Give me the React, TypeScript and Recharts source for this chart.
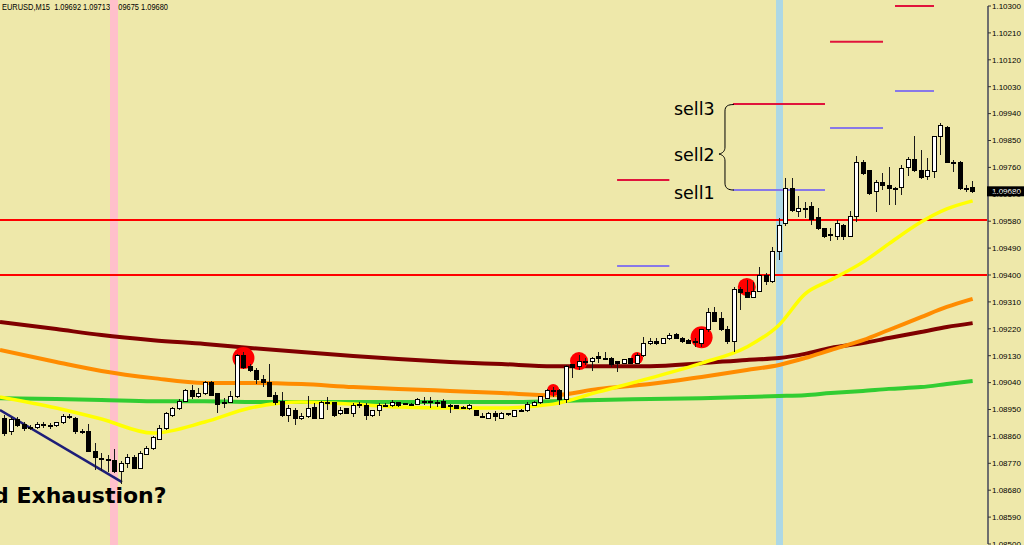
import {
  ComposedChart,
  Bar,
  Line,
  Scatter,
  XAxis,
  YAxis,
  ReferenceLine,
  ReferenceArea,
  ReferenceDot,
} from 'recharts';

// EURUSD M15 candles, oldest first
const opens = [
  1.08921, 1.08875, 1.08918, 1.08901, 1.08885, 1.08891, 1.08901, 1.08895, 1.08895, 1.08905,
  1.08925, 1.08921, 1.08878, 1.08878, 1.08811, 1.08784, 1.08784, 1.08781, 1.08744, 1.08771,
  1.08791, 1.08754, 1.08801, 1.08818, 1.08851, 1.08888, 1.08931, 1.08952, 1.08978, 1.09012,
  1.08992, 1.09005, 1.09039, 1.09002, 1.08972, 1.08975, 1.08992, 1.09132, 1.09095, 1.09082,
  1.09052, 1.09039, 1.08998, 1.08978, 1.08931, 1.08948, 1.08921, 1.08928, 1.08958, 1.08921,
  1.08972, 1.08972, 1.08935, 1.08952, 1.08938, 1.08965, 1.08962, 1.08931, 1.08945, 1.08965,
  1.08962, 1.08972, 1.08968, 1.08968, 1.08968, 1.08978, 1.08972, 1.08972, 1.08978, 1.08965,
  1.08962, 1.08958, 1.08955, 1.08945, 1.08928, 1.08921, 1.08935, 1.08921, 1.08935, 1.08928,
  1.08945, 1.08945, 1.08965, 1.08972, 1.08988, 1.09012, 1.09012, 1.08982, 1.09099, 1.09095,
  1.09109, 1.09109, 1.09126, 1.09122, 1.09122, 1.09109, 1.09105, 1.09119, 1.09105, 1.09129,
  1.09172, 1.09179, 1.09172, 1.09189, 1.09202, 1.09189, 1.09182, 1.09176, 1.09172, 1.09216,
  1.09276, 1.09256, 1.09219, 1.09179, 1.09353, 1.0934, 1.09326, 1.09346, 1.094, 1.09377,
  1.09477, 1.09571, 1.09688, 1.09614, 1.09621, 1.09628, 1.09591, 1.09554, 1.09537, 1.0953,
  1.09567, 1.0953, 1.09597, 1.09778, 1.09748, 1.09678, 1.09711, 1.09701, 1.09691, 1.09694,
  1.09758, 1.09788, 1.09751, 1.09728, 1.09745, 1.09862, 1.09895, 1.09778, 1.09778, 1.09691,
  1.09692,
];
const highs = [
  1.08931, 1.08925, 1.08925, 1.08908, 1.08898, 1.08908, 1.08908, 1.08905, 1.08908, 1.08935,
  1.08935, 1.08925, 1.08885, 1.08901, 1.08838, 1.08804, 1.08798, 1.08818, 1.08778, 1.08801,
  1.08798, 1.08811, 1.08828, 1.08861, 1.08898, 1.08942, 1.08958, 1.08985, 1.09019, 1.09032,
  1.09022, 1.09045, 1.09045, 1.09005, 1.08988, 1.09012, 1.09136, 1.09142, 1.09102, 1.09089,
  1.09065, 1.09102, 1.09009, 1.09009, 1.08965, 1.08955, 1.08938, 1.08995, 1.08972, 1.08978,
  1.08992, 1.08975, 1.08958, 1.08955, 1.08972, 1.08975, 1.08972, 1.08948, 1.08972, 1.08972,
  1.08982, 1.08975, 1.08972, 1.08972, 1.08988, 1.08992, 1.08992, 1.08982, 1.08985, 1.08968,
  1.08965, 1.08962, 1.08968, 1.08948, 1.08938, 1.08942, 1.08945, 1.08942, 1.08938, 1.08948,
  1.08952, 1.08975, 1.08978, 1.08995, 1.09019, 1.09025, 1.09019, 1.09099, 1.09102, 1.09132,
  1.09122, 1.09126, 1.09142, 1.09142, 1.09126, 1.09112, 1.09119, 1.09122, 1.09139, 1.09192,
  1.09189, 1.09189, 1.09189, 1.09206, 1.09206, 1.09192, 1.09186, 1.09189, 1.09219, 1.0929,
  1.09293, 1.09276, 1.09229, 1.0936, 1.0936, 1.09383, 1.09377, 1.09427, 1.09407, 1.09494,
  1.09591, 1.09725, 1.09725, 1.09664, 1.09644, 1.09644, 1.09624, 1.09557, 1.09557, 1.09584,
  1.09571, 1.09614, 1.09798, 1.09785, 1.09751, 1.09718, 1.09741, 1.09761, 1.09694, 1.09768,
  1.09795, 1.09865, 1.09818, 1.09791, 1.09865, 1.09909, 1.09899, 1.09785, 1.09781, 1.09701,
  1.09713,
];
const lows = [
  1.08861, 1.08865, 1.08891, 1.08878, 1.08881, 1.08885, 1.08888, 1.08885, 1.08891, 1.08901,
  1.08918, 1.08868, 1.08868, 1.08808, 1.08747, 1.08744, 1.08741, 1.08737, 1.08701, 1.08754,
  1.08751, 1.08751, 1.08798, 1.08814, 1.08848, 1.08881, 1.08925, 1.08948, 1.08975, 1.08985,
  1.08988, 1.08998, 1.08995, 1.08938, 1.08955, 1.08972, 1.08988, 1.09085, 1.09075, 1.09035,
  1.09025, 1.08992, 1.08965, 1.08925, 1.08908, 1.08898, 1.08915, 1.08921, 1.08918, 1.08918,
  1.08948, 1.08925, 1.08931, 1.08935, 1.08925, 1.08955, 1.08915, 1.08925, 1.08928, 1.08958,
  1.08958, 1.08958, 1.08965, 1.08965, 1.08965, 1.08965, 1.08955, 1.08958, 1.08955, 1.08938,
  1.08952, 1.08955, 1.08948, 1.08928, 1.08925, 1.08918, 1.08911, 1.08918, 1.08928, 1.08925,
  1.08942, 1.08942, 1.08962, 1.08968, 1.08985, 1.08992, 1.08965, 1.08972, 1.09055, 1.09082,
  1.09099, 1.09079, 1.09105, 1.09119, 1.09092, 1.09075, 1.09102, 1.09102, 1.09102, 1.09126,
  1.09166, 1.09166, 1.09169, 1.09182, 1.09186, 1.09172, 1.09169, 1.09159, 1.09159, 1.09209,
  1.09243, 1.09213, 1.09169, 1.09142, 1.09283, 1.09323, 1.09323, 1.09343, 1.09367, 1.09373,
  1.0945, 1.09564, 1.09611, 1.09594, 1.09591, 1.09567, 1.09551, 1.09524, 1.09514, 1.09517,
  1.09517, 1.09527, 1.09577, 1.09735, 1.09668, 1.09611, 1.09684, 1.09634, 1.09634, 1.09668,
  1.09731, 1.09745, 1.09721, 1.09718, 1.09725, 1.09802, 1.09775, 1.09745, 1.09684, 1.09678,
  1.09675,
];
const closes = [
  1.08871, 1.08915, 1.08898, 1.08885, 1.08891, 1.08901, 1.08895, 1.08894, 1.08905, 1.08928,
  1.08924, 1.08875, 1.08877, 1.08811, 1.08788, 1.08785, 1.08783, 1.08741, 1.08771, 1.08791,
  1.08754, 1.08804, 1.08821, 1.08855, 1.08888, 1.08935, 1.08952, 1.08978, 1.09012, 1.08992,
  1.09005, 1.09039, 1.08998, 1.08968, 1.08973, 1.08995, 1.09129, 1.09089, 1.09079, 1.09049,
  1.09039, 1.08995, 1.08975, 1.08931, 1.08952, 1.08921, 1.08928, 1.08955, 1.08921, 1.08975,
  1.08973, 1.08931, 1.08948, 1.08938, 1.08962, 1.08966, 1.08931, 1.08945, 1.08965, 1.08964,
  1.08975, 1.08962, 1.08969, 1.08967, 1.08982, 1.08972, 1.08978, 1.08971, 1.08958, 1.08964,
  1.08955, 1.08957, 1.08962, 1.08931, 1.08927, 1.08938, 1.08925, 1.08935, 1.08934, 1.08945,
  1.08944, 1.08968, 1.08975, 1.08992, 1.09015, 1.09015, 1.08982, 1.09095, 1.09092, 1.09109,
  1.09108, 1.09122, 1.09119, 1.09121, 1.09102, 1.09105, 1.09116, 1.09105, 1.09129, 1.09172,
  1.09179, 1.09172, 1.09186, 1.09199, 1.09189, 1.09179, 1.09172, 1.09175, 1.09216, 1.09276,
  1.09246, 1.09216, 1.09176, 1.09353, 1.09343, 1.09326, 1.09346, 1.094, 1.09377, 1.09477,
  1.09567, 1.09688, 1.09617, 1.09624, 1.0962, 1.09587, 1.09554, 1.0953, 1.09534, 1.09571,
  1.0953, 1.09597, 1.09778, 1.09741, 1.09674, 1.09711, 1.09701, 1.09691, 1.0969, 1.09755,
  1.09788, 1.09748, 1.09725, 1.09748, 1.09862, 1.09899, 1.09778, 1.09777, 1.09688, 1.0969,
  1.0968,
];

// moving averages, read at these candle positions
const maIndex = [-0.73, 8, 15, 23, 31, 38, 46, 54, 61, 69, 77, 85, 92, 100, 108, 115, 120, 124, 128, 133, 137, 142, 146, 150];
const maYellow = [
  1.08992, 1.08955, 1.08918, 1.08871, 1.08908, 1.08955, 1.08975, 1.08968, 1.08958, 1.08955, 1.08955, 1.08968,
  1.09009, 1.09055, 1.09105, 1.09159, 1.09233, 1.09336, 1.09383, 1.09443, 1.09504, 1.09577, 1.09621, 1.09648,
];
const maOrange = [
  1.09149, 1.09109, 1.09079, 1.09055, 1.09039, 1.09039, 1.09035, 1.09025, 1.09019, 1.09012, 1.09005, 1.08998,
  1.09019, 1.09035, 1.09059, 1.09082, 1.09099, 1.09122, 1.09149, 1.09182, 1.09216, 1.09259, 1.09293, 1.0932,
];
const maMaroon = [
  1.09243, 1.09219, 1.09199, 1.09182, 1.09169, 1.09156, 1.09142, 1.09129, 1.09119, 1.09109, 1.09102, 1.09095,
  1.09095, 1.09095, 1.09105, 1.09116, 1.09122, 1.09136, 1.09156, 1.09172, 1.09189, 1.09209, 1.09226, 1.09239,
];
const maGreen = [
  1.08988, 1.08985, 1.08982, 1.08978, 1.08978, 1.08975, 1.08975, 1.08975, 1.08975, 1.08975, 1.08975, 1.08978,
  1.08982, 1.08985, 1.08988, 1.08992, 1.08995, 1.08998, 1.09005, 1.09012, 1.09019, 1.09025, 1.09035, 1.09045,
];

// red signal dots
const signalIndex = [37, 85, 89, 98, 108, 115];
const signalPrice = [1.09122, 1.09015, 1.09112, 1.09122, 1.09192, 1.0936];
const signalRadius = [11, 6, 9, 6, 11, 9];

// order levels: entry (red) and target (purple) stubs
const levelFrom = [94.9, 94.9, 112.86, 112.86, 127.9, 127.9, 137.97, 137.97];
const levelTo = [103.0, 103.0, 127.12, 127.12, 136.11, 136.11, 144.01, 144.01];
const levelPrice = [1.09718, 1.0943, 1.09972, 1.09684, 1.1018, 1.09892, 1.103, 1.10016];
const levelKind = ['sell', 'target', 'sell', 'target', 'sell', 'target', 'sell', 'target'];

const supportLevels = [1.09584, 1.094];
const trendStart = { i: -0.73, p: 1.08948 };
const trendEnd = { i: 18.18, p: 1.08707 };

// session markers (candle ranges)
const bands = [
  { from: 16.32, to: 17.56, color: '#FFC0CB' },
  { from: 119.53, to: 120.61, color: '#ADD8E6' },
];

const priceTicks = [
  1.103, 1.1021, 1.1012, 1.1003, 1.0994, 1.0985, 1.0976, 1.0967, 1.0958, 1.0949, 1.094,
  1.0931, 1.0922, 1.0913, 1.0904, 1.0895, 1.0886, 1.0877, 1.0868, 1.0859, 1.085,
];
const lastClose = closes[closes.length - 1];
const header = `EURUSD,M15  ${opens[150].toFixed(5)} ${highs[150].toFixed(5)} ${lows[150].toFixed(5)} ${lastClose.toFixed(5)}`;

const candles = opens.map((open, i) => ({ i, open, high: highs[i], low: lows[i], close: closes[i] }));
const toSeries = (vals: number[]) => vals.map((v, k) => ({ i: maIndex[k], v }));
const signals = signalIndex.map((i, k) => ({ i, p: signalPrice[k], r: signalRadius[k] }));

function Candle(props: any) {
  const { x, y, width, height, payload } = props;
  if (x == null || y == null) return null;
  const top = Math.min(y, y + height);
  const h = Math.abs(height);
  const { open, close, high, low } = payload;
  const k = h / (high - low);
  const bodyTop = top + (high - Math.max(open, close)) * k;
  const bodyH = Math.max(1, Math.abs(open - close) * k);
  const cx = Math.round(x + width / 2) + 0.5;
  const bull = close > open;
  return (
    <g shapeRendering="crispEdges">
      <line x1={cx} x2={cx} y1={top} y2={top + h} stroke="#1a1a1a" strokeWidth={1} />
      <rect x={cx - 2} y={bodyTop} width={4} height={bodyH} fill={bull ? '#ffffff' : '#000000'} stroke="#000" strokeWidth={1} />
    </g>
  );
}

function SellNotes(props: any) {
  const { cx, cy } = props;
  const font = { fontFamily: 'DejaVu Sans', fontSize: 17.5, fill: '#000' };
  const d = `M ${cx + 1} ${cy + 0.5} C ${cx - 5} ${cy + 0.5}, ${cx - 8} ${cy + 2}, ${cx - 8} ${cy + 7}
    L ${cx - 8} ${cy + 43} C ${cx - 8} ${cy + 47}, ${cx - 10} ${cy + 49}, ${cx - 14} ${cy + 50}
    C ${cx - 10} ${cy + 51}, ${cx - 8} ${cy + 53}, ${cx - 8} ${cy + 57}
    L ${cx - 8} ${cy + 79} C ${cx - 8} ${cy + 84}, ${cx - 5} ${cy + 86}, ${cx + 1} ${cy + 86}`;
  return (
    <g>
      <path d={d} fill="none" stroke="#000" strokeWidth={1} />
      <text x={cx - 59} y={cy + 10.5} {...font}>sell3</text>
      <text x={cx - 59} y={cy + 56.5} {...font}>sell2</text>
      <text x={cx - 59} y={cy + 95} {...font}>sell1</text>
    </g>
  );
}

function PriceTag(props: any) {
  const { cx, cy } = props;
  return (
    <g>
      <rect x={cx - 1} y={cy - 5} width={37} height={10} fill="#000" />
      <text x={cx + 4} y={cy + 3} fill="#fff" fontFamily="Liberation Sans" fontSize={8}>
        {lastClose.toFixed(5)}
      </text>
    </g>
  );
}

function App() {
  return (
    <div style={{ position: 'absolute', left: 0, top: 0, width: 1024, height: 545, background: '#EEE8AA', overflow: 'hidden' }}>
      <svg width={1024} height={545} style={{ position: 'absolute', left: 0, top: 0 }}>
        <text x={2} y={10} fontFamily="Liberation Sans" fontSize={9.5} fill="#000" textLength={166} lengthAdjust="spacingAndGlyphs" style={{ whiteSpace: 'pre' }}>
          {header}
        </text>
      </svg>
      <div style={{ position: 'absolute', left: 0, top: 0 }}>
        <ComposedChart width={1024} height={545} data={candles} margin={{ top: 6, right: 0, bottom: 1, left: 0 }}>
          <XAxis dataKey="i" type="number" domain={[-0.728, 152.38]} allowDataOverflow hide />
          <YAxis
            orientation="right"
            width={36}
            domain={[1.085, 1.103]}
            allowDataOverflow
            ticks={priceTicks}
            interval={0}
            tickFormatter={(v: number) => v.toFixed(5)}
            tick={{ fontSize: 8, fill: '#000', fontFamily: 'Liberation Sans' }}
            tickSize={3}
            tickMargin={1}
            axisLine={{ stroke: '#6e6e6e', strokeWidth: 2 }}
            tickLine={{ stroke: '#333' }}
          />
          {bands.map((b) => (
            <ReferenceArea
              key={b.from}
              x1={b.from}
              x2={b.to}
              y1={1.08497}
              y2={1.1032}
              ifOverflow="visible"
              fill={b.color}
              fillOpacity={1}
              stroke="none"
              zIndex={50}
            />
          ))}
          {supportLevels.map((p) => (
            <ReferenceLine key={p} y={p} stroke="#FF0000" strokeWidth={2} zIndex={100} />
          ))}
          {levelPrice.map((p, k) => (
            <ReferenceLine
              key={k}
              segment={[{ x: levelFrom[k], y: p }, { x: levelTo[k], y: p }]}
              stroke={levelKind[k] === 'sell' ? '#E0143C' : '#8878E8'}
              strokeWidth={2}
              ifOverflow="visible"
              zIndex={100}
            />
          ))}
          <ReferenceLine
            segment={[{ x: trendStart.i, y: trendStart.p }, { x: trendEnd.i, y: trendEnd.p }]}
            stroke="#1E1E78"
            strokeWidth={2.5}
            ifOverflow="visible"
            zIndex={100}
          />
          <Line data={toSeries(maGreen)} dataKey="v" type="monotone" stroke="#32CD32" strokeWidth={4} dot={false} isAnimationActive={false} zIndex={200} />
          <Line data={toSeries(maMaroon)} dataKey="v" type="monotone" stroke="#800000" strokeWidth={4} dot={false} isAnimationActive={false} zIndex={200} />
          <Line data={toSeries(maOrange)} dataKey="v" type="monotone" stroke="#FF8C00" strokeWidth={4} dot={false} isAnimationActive={false} zIndex={200} />
          <Line data={toSeries(maYellow)} dataKey="v" type="monotone" stroke="#FFFF00" strokeWidth={3.5} dot={false} isAnimationActive={false} zIndex={200} />
          <Scatter
            data={signals}
            dataKey="p"
            isAnimationActive={false}
            zIndex={250}
            shape={(p: any) => <circle cx={p.cx} cy={p.cy} r={p.payload.r} fill="#FF0000" />}
          />
          <Bar
            dataKey={(d: any) => [d.low, d.high]}
            barSize={5}
            isAnimationActive={false}
            zIndex={300}
            shape={(p: any) => <Candle {...p} />}
          />
          <ReferenceDot x={112.86} y={1.09972} ifOverflow="visible" zIndex={700} shape={(p: any) => <SellNotes {...p} />} />
          <ReferenceDot x={152.38} y={lastClose} ifOverflow="visible" zIndex={700} shape={(p: any) => <PriceTag {...p} />} />
        </ComposedChart>
      </div>
      <svg width={1024} height={545} style={{ position: 'absolute', left: 0, top: 0, pointerEvents: 'none' }}>
        <text x={-7} y={503} fontFamily="DejaVu Sans" fontWeight="bold" fontSize={22} fill="#000">
          d Exhaustion?
        </text>
      </svg>
    </div>
  );
}

export default App;
